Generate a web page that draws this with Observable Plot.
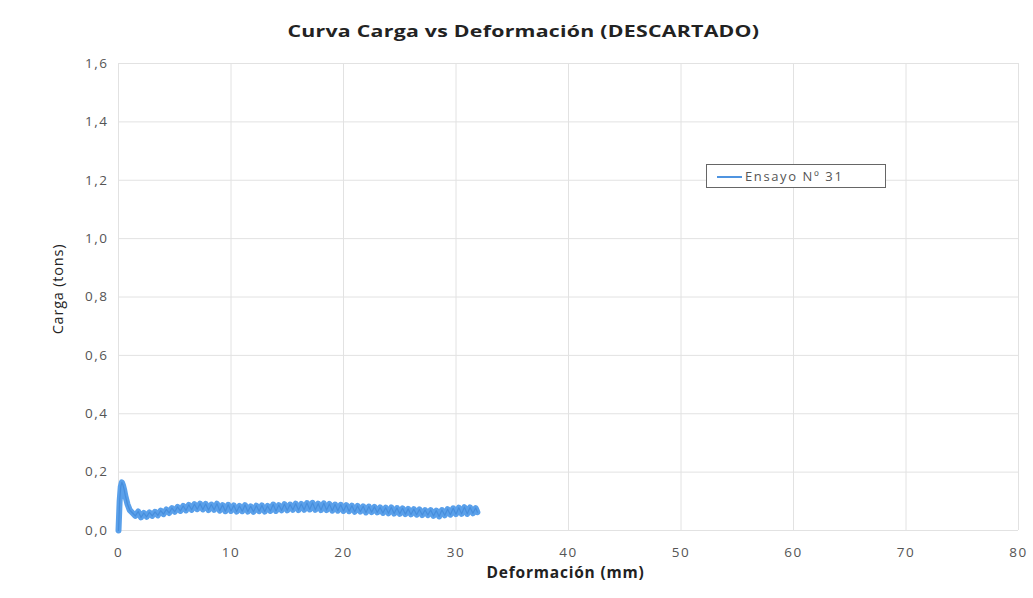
<!DOCTYPE html>
<html>
<head>
<meta charset="utf-8">
<script src="https://cdn.jsdelivr.net/npm/d3@7"></script>
<script src="https://cdn.jsdelivr.net/npm/@observablehq/plot@0.6"></script>
<style>
  html, body { margin: 0; padding: 0; background: #fff; }
  #wrap { position: relative; width: 1033px; height: 598px; font-family: "Open Sans", sans-serif; }
  #title { height: 45px; box-sizing: border-box; padding-top: 21px; text-align: center; padding-left: 14px;
           font-weight: bold; font-size: 16px; color: #222; line-height: 20px; }
  #title span { display: inline-block; transform: scaleX(1.33); letter-spacing: 0.2px; }
  #legend { position: absolute; left: 706px; top: 164px; width: 180px; height: 24px; box-sizing: border-box;
            border: 1px solid #666; background: #fff; font-size: 13px; color: #555; }
  #legend .sw { position: absolute; left: 10px; top: 11px; width: 25px; height: 2px; background: #4f94e0; }
  #legend .tx { position: absolute; left: 38px; top: 2px; letter-spacing: 1.6px; }
</style>
</head>
<body>
<div id="wrap">
  <div id="title"><span></span></div>
  <div id="chart"></div>
  <div id="legend"><div class="sw"></div><div class="tx"></div></div>
</div>
<script>
const titleText = "Curva Carga vs Deformación (DESCARTADO)";
const xLabel = "Deformación (mm)";
const yLabel = "Carga (tons)";
const seriesName = "Ensayo Nº 31";
const xTicks = [0, 10, 20, 30, 40, 50, 60, 70, 80];
const yTicks = [0, 0.2, 0.4, 0.6, 0.8, 1.0, 1.2, 1.4, 1.6];

const deformacion = [
  0, 0.1, 0.2, 0.3, 0.4, 0.5, 0.6, 0.8, 1.0, 1.25,
  1.5, 1.75, 2.0, 2.25, 2.5, 2.75, 3.0, 3.25, 3.5, 3.75,
  4.0, 4.25, 4.5, 4.75, 5.0, 5.25, 5.5, 5.75, 6.0, 6.25,
  6.5, 6.75, 7.0, 7.25, 7.5, 7.75, 8.0, 8.25, 8.5, 8.75,
  9.0, 9.25, 9.5, 9.75, 10.0, 10.25, 10.5, 10.75, 11.0, 11.25,
  11.5, 11.75, 12.0, 12.25, 12.5, 12.75, 13.0, 13.25, 13.5, 13.75,
  14.0, 14.25, 14.5, 14.75, 15.0, 15.25, 15.5, 15.75, 16.0, 16.25,
  16.5, 16.75, 17.0, 17.25, 17.5, 17.75, 18.0, 18.25, 18.5, 18.75,
  19.0, 19.25, 19.5, 19.75, 20.0, 20.25, 20.5, 20.75, 21.0, 21.25,
  21.5, 21.75, 22.0, 22.25, 22.5, 22.75, 23.0, 23.25, 23.5, 23.75,
  24.0, 24.25, 24.5, 24.75, 25.0, 25.25, 25.5, 25.75, 26.0, 26.25,
  26.5, 26.75, 27.0, 27.25, 27.5, 27.75, 28.0, 28.25, 28.5, 28.75,
  29.0, 29.25, 29.5, 29.75, 30.0, 30.25, 30.5, 30.75, 31.0, 31.25,
  31.5, 31.75, 31.9
];
const carga = [
  0.0, 0.10, 0.15, 0.165, 0.155, 0.14, 0.12, 0.09, 0.07, 0.06,
  0.05, 0.065, 0.045, 0.06, 0.047, 0.062, 0.05, 0.064, 0.052, 0.068,
  0.056, 0.072, 0.06, 0.077, 0.064, 0.081, 0.067, 0.084, 0.069, 0.088,
  0.071, 0.09, 0.073, 0.092, 0.072, 0.091, 0.07, 0.089, 0.071, 0.092,
  0.068, 0.087, 0.066, 0.088, 0.067, 0.086, 0.065, 0.084, 0.066, 0.087,
  0.065, 0.083, 0.064, 0.085, 0.066, 0.086, 0.065, 0.084, 0.067, 0.089,
  0.067, 0.087, 0.069, 0.09, 0.069, 0.089, 0.071, 0.092, 0.07, 0.091,
  0.071, 0.094, 0.072, 0.095, 0.071, 0.092, 0.07, 0.093, 0.07, 0.091,
  0.068, 0.089, 0.068, 0.088, 0.067, 0.087, 0.066, 0.085, 0.064, 0.084,
  0.065, 0.083, 0.062, 0.082, 0.063, 0.081, 0.062, 0.079, 0.06, 0.078,
  0.059, 0.079, 0.058, 0.077, 0.057, 0.076, 0.056, 0.074, 0.055, 0.073,
  0.054, 0.072, 0.053, 0.07, 0.053, 0.07, 0.05, 0.068, 0.048, 0.07,
  0.052, 0.073, 0.054, 0.076, 0.056, 0.078, 0.057, 0.08, 0.057, 0.079,
  0.059, 0.077, 0.063
];

const data = deformacion.map((d, i) => ({x: d, y: carga[i]}));

document.querySelector("#title span").textContent = titleText;
document.querySelector("#legend .tx").textContent = seriesName;

const fmt = v => v.toFixed(1).replace(".", ",");

const chart = Plot.plot({
  width: 1033,
  height: 553,
  marginTop: 18,
  marginBottom: 68,
  marginLeft: 118,
  marginRight: 15,
  style: {fontFamily: "Open Sans, sans-serif", fontSize: "13.5px", color: "#555", background: "#fff"},
  x: {domain: [0, 80], ticks: xTicks, tickSize: 0, tickPadding: 17, label: null},
  y: {domain: [0, 1.6], ticks: yTicks, tickSize: 0, tickPadding: 10, tickFormat: fmt, label: null},
  marks: [
    Plot.gridX(xTicks, {stroke: "#e2e2e2", strokeOpacity: 1}),
    Plot.gridY(yTicks, {stroke: "#e2e2e2", strokeOpacity: 1}),
    Plot.axisX(xTicks, {tickSize: 0, tickPadding: 17, fill: "#555", fontSize: 13.5, label: null}),
    Plot.axisY(yTicks, {tickSize: 0, tickPadding: 10, tickFormat: fmt, fill: "#555", fontSize: 13.5, label: null}),
    Plot.line(data, {x: "x", y: "y", stroke: "#5aa0ea", strokeWidth: 6, strokeLinejoin: "round"}),
    Plot.line(data, {x: "x", y: "y", stroke: "#3f86d6", strokeWidth: 1.2, strokeOpacity: 0.7}),
    Plot.text([xLabel], {frameAnchor: "bottom", dy: 47, dx: -3, text: d => d, fontWeight: "bold", fontSize: 15.5, fill: "#222"}),
    Plot.text([yLabel], {frameAnchor: "left", dx: -60, dy: -8, rotate: -90, textAnchor: "middle", text: d => d, fontSize: 14.5, fill: "#222"})
  ]
});
chart.querySelectorAll("g[aria-label='x-axis tick label'] text, g[aria-label='y-axis tick label'] text")
  .forEach(t => t.setAttribute("letter-spacing", "1.5"));
chart.querySelectorAll("g[aria-label='text'] text").forEach(t => t.setAttribute("letter-spacing", "0.8"));
document.getElementById("chart").appendChild(chart);
</script>
</body>
</html>
